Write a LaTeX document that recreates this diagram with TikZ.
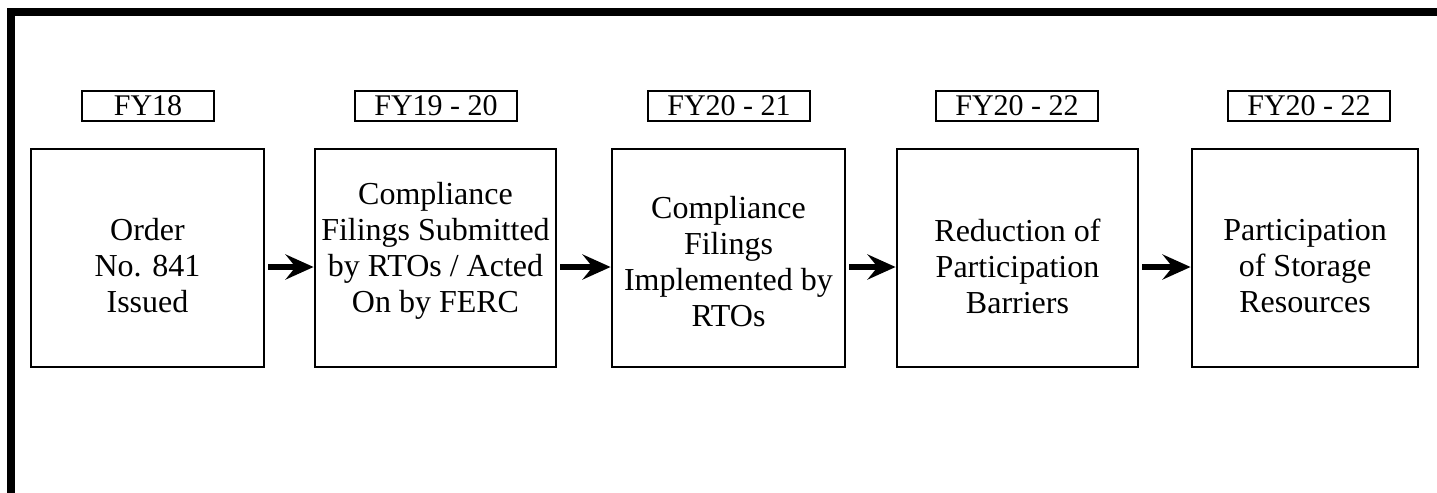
\documentclass[tikz,border=0pt]{standalone}
\usepackage{fontspec}
\setmainfont{Liberation Serif}
\usetikzlibrary{arrows.meta}

\tikzset{
  stage/.style={draw, line width=1.4pt, minimum height=109pt},
  stagetext/.style={align=center, inner sep=0pt, font=\fontsize{16}{18}\selectfont},
  year/.style={draw, line width=1.4pt, minimum height=15pt, minimum width=81pt,
    inner sep=0pt, font=\fontsize{15}{17}\selectfont},
  flow/.style={-{Stealth[length=14pt, width=12.5pt, inset=5pt]}, line width=3pt,
    shorten <=1.5pt}
}

\begin{document}
\begin{tikzpicture}[x=0.5pt, y=-0.5pt]
\useasboundingbox (0,0) rectangle (1437,493);
\clip (0,0) rectangle (1437,493);

% Frame
\draw[line width=4pt] (11,12) rectangle (1500,560);

% Years
\node[year, minimum width=66pt] (y1) at (148,106) {FY18};
\node[year] (y2) at (436,106) {FY19 - 20};
\node[year] (y3) at (729,106) {FY20 - 21};
\node[year] (y4) at (1017,106) {FY20 - 22};
\node[year] (y5) at (1309,106) {FY20 - 22};

% Stages
\node[stage, minimum width=116.5pt] (s1) at (147.5,258) {};
\node[stage, minimum width=120.5pt] (s2) at (435.5,258) {};
\node[stage, minimum width=116.5pt] (s3) at (728.5,258) {};
\node[stage, minimum width=120.5pt] (s4) at (1017.5,258) {};
\node[stage, minimum width=113pt] (s5) at (1305,258) {};

% Stage texts
\node[stagetext, yshift=-4pt] (t1) at (s1) {Order\\No. 841\\Issued};
\node[stagetext, yshift=3.75pt] (t2) at (s2) {Compliance\\Filings Submitted\\by RTOs / Acted\\On by FERC};
\node[stagetext, yshift=-2pt] (t3) at (s3) {Compliance\\Filings\\Implemented by\\RTOs};
\node[stagetext, yshift=-4pt] (t4) at (s4) {Reduction of\\Participation\\Barriers};
\node[stagetext, yshift=-4pt] (t5) at (s5) {Participation\\of Storage\\Resources};

% Arrows
\draw[flow] ([yshift=-4.5pt]s1.east) -- ([yshift=-4.5pt]s2.west);
\draw[flow] ([yshift=-4.5pt]s2.east) -- ([yshift=-4.5pt]s3.west);
\draw[flow] ([yshift=-4.5pt]s3.east) -- ([yshift=-4.5pt]s4.west);
\draw[flow] ([yshift=-4.5pt]s4.east) -- ([yshift=-4.5pt]s5.west);
\end{tikzpicture}
\end{document}
